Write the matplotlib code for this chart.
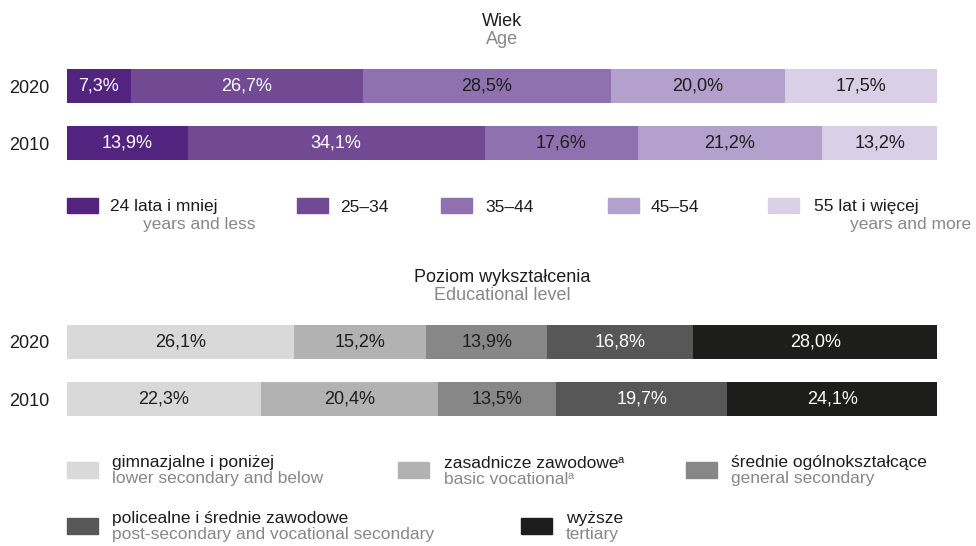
import numpy as np
import matplotlib
matplotlib.use('Agg')
import matplotlib.pyplot as plt
from matplotlib.patches import Rectangle
from matplotlib.text import Annotation

plt.rcParams['font.family'] = ['Liberation Sans', 'DejaVu Sans']

# data
years = ['2020', '2010']
age_values = {
    '2020': [7.3, 26.7, 28.5, 20.0, 17.5],
    '2010': [13.9, 34.1, 17.6, 21.2, 13.2],
}
age_labels_pl = ['24 lata i mniej', '25–34', '35–44', '45–54', '55 lat i więcej']
age_labels_en = ['years and less', '', '', '', 'years and more']
age_colors = ['#532380', '#724a93', '#8e71ae', '#b3a0cc', '#d9cfe6']
age_text = ['white', 'white', '#1d1d1b', '#1d1d1b', '#1d1d1b']

edu_values = {
    '2020': [26.1, 15.2, 13.9, 16.8, 28.0],
    '2010': [22.3, 20.4, 13.5, 19.7, 24.1],
}
edu_labels_pl = ['gimnazjalne i poniżej', 'zasadnicze zawodowe',
                 'średnie ogólnokształcące', 'policealne i średnie zawodowe', 'wyższe']
edu_labels_en = ['lower secondary and below', 'basic vocational',
                 'general secondary', 'post-secondary and vocational secondary', 'tertiary']
edu_note = [False, True, False, False, False]   # footnote "a"
edu_colors = ['#d9d9d9', '#b2b2b2', '#878787', '#575757', '#1d1d1b']
edu_text = ['#1d1d1b', '#1d1d1b', '#1d1d1b', 'white', 'white']

DARK = '#1d1d1b'
GREY = '#878787'
W, H = 976, 546

fig = plt.figure(figsize=(W / 100, H / 100), dpi=100)


def fx(px):
    return px / W


def fy(py):
    return 1 - py / H


def stacked(top, values, colors, tcolors):
    # axes spans both bars; bar centres 57 px apart, bars 34 px high
    gap = 57.0
    bh = 34.0
    ax = fig.add_axes([fx(67), fy(top + gap + bh), fx(870), (gap + bh) / H])
    ax.set_xlim(0, 100)
    ax.set_ylim(1 + bh / 2 / gap, -bh / 2 / gap)
    for i, yr in enumerate(years):
        left = 0
        for v, c, tc in zip(values[yr], colors, tcolors):
            ax.barh(i, v, left=left, height=bh / gap, color=c, edgecolor='none')
            ax.text(left + v / 2, i, f'{v:.1f}'.replace('.', ',') + '%',
                    ha='center', va='center', color=tc, fontsize=13)
            left += v
    ax.set_yticks(range(len(years)))
    ax.set_yticklabels(years, fontsize=13, color=DARK)
    ax.tick_params(axis='y', length=0, pad=13)
    ax.set_xticks([])
    for s in ax.spines.values():
        s.set_visible(False)
    return ax


def note(t, color):
    # small superscript "a" right after a text
    fig.add_artist(Annotation('a', xy=(1, 0.36), xycoords=t, xytext=(-0.5, 0),
                              textcoords='offset points', fontsize=8,
                              ha='left', va='bottom', color=color))


# titles
cx = 0.5 * (fx(67) + fx(937))
fig.text(cx, fy(21), 'Wiek', ha='center', va='center', fontsize=13, color=DARK)
fig.text(cx, fy(40), 'Age', ha='center', va='center', fontsize=13, color=GREY)
fig.text(cx, fy(277), 'Poziom wykształcenia', ha='center', va='center', fontsize=13, color=DARK)
fig.text(cx, fy(295), 'Educational level', ha='center', va='center', fontsize=13, color=GREY)

stacked(69, age_values, age_colors, age_text)
stacked(325, edu_values, edu_colors, edu_text)

# age legend
sq_x = [67, 297, 441, 608, 768]
tx_x = [110, 340, 485, 651, 814]
for i in range(5):
    fig.patches.append(Rectangle((fx(sq_x[i]), fy(213)), fx(31), 15 / H,
                                 transform=fig.transFigure, color=age_colors[i]))
    fig.text(fx(tx_x[i]), fy(207), age_labels_pl[i], ha='left', va='center', fontsize=12.5, color=DARK)
fig.text(fx(255), fy(224), age_labels_en[0], ha='right', va='center', fontsize=12.5, color=GREY)
fig.text(fx(971), fy(224), age_labels_en[4], ha='right', va='center', fontsize=12.5, color=GREY)

# education legend
leg_sq = [(67, 462), (398, 462), (686, 462), (67, 518), (521, 518)]
leg_tx = [112, 444, 731, 112, 566]
for i in range(5):
    sx, sy = leg_sq[i]
    fig.patches.append(Rectangle((fx(sx), fy(sy + 16)), fx(31), 16 / H,
                                 transform=fig.transFigure, color=edu_colors[i]))
    t1 = fig.text(fx(leg_tx[i]), fy(sy + 1), edu_labels_pl[i], ha='left', va='center',
                  fontsize=12.5, color=DARK)
    t2 = fig.text(fx(leg_tx[i]), fy(sy + 17), edu_labels_en[i], ha='left', va='center',
                  fontsize=12.5, color=GREY)
    if edu_note[i]:
        note(t1, DARK)
        note(t2, GREY)

fig.savefig('out.png', dpi=100)
